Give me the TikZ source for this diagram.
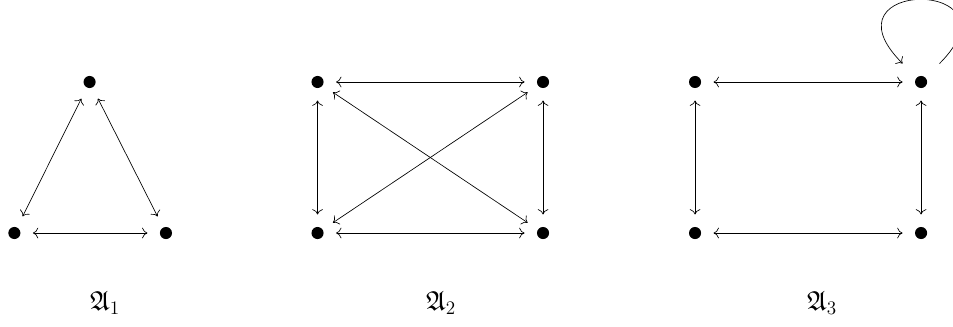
\documentclass[tikz,border=0pt]{standalone}
\usepackage{amssymb}
\usetikzlibrary{arrows.meta}
\begin{document}
\begin{tikzpicture}[transform shape, vertex/.style={shape=circle, fill, inner sep=0pt, minimum size=0.32cm, outer sep=0.33cm}, link/.style={line width=0.5pt, {Computer Modern Rightarrow[length=4pt,width=8pt]}-{Computer Modern Rightarrow[length=4pt,width=8pt]}}, loopy/.style={line width=0.5pt, -{Computer Modern Rightarrow[length=4pt,width=8pt]}}, caption/.style={shape=rectangle, anchor=center, font=\huge}]
	\useasboundingbox (0, 0) rectangle (25.21, 8.624);
	% first graph
	\node[vertex] (a1t) at (2.37, 6.455){};
	\node[vertex] (a1l) at (0.38, 2.46){};
	\node[vertex] (a1r) at (4.39, 2.46){};
	\draw[link] (a1t) -- (a1l);
	\draw[link] (a1t) -- (a1r);
	\draw[link] (a1l) -- (a1r);
	\node[caption] (n1) at (2.778, 0.61){$\mathfrak{A}_1$};
	% second graph
	\node[vertex] (a2a) at (8.4, 6.455){};
	\node[vertex] (a2b) at (14.365, 6.455){};
	\node[vertex] (a2c) at (8.4, 2.46){};
	\node[vertex] (a2d) at (14.365, 2.46){};
	\draw[link] (a2a) -- (a2b);
	\draw[link] (a2c) -- (a2d);
	\draw[link] (a2a) -- (a2c);
	\draw[link] (a2b) -- (a2d);
	\draw[link] (a2a) -- (a2d);
	\draw[link] (a2b) -- (a2c);
	\node[caption] (n2) at (11.667, 0.61){$\mathfrak{A}_2$};
	% third graph
	\node[vertex] (a3a) at (18.386, 6.455){};
	\node[vertex] (a3b) at (24.365, 6.455){};
	\node[vertex] (a3c) at (18.386, 2.46){};
	\node[vertex] (a3d) at (24.365, 2.46){};
	\draw[link] (a3a) -- (a3b);
	\draw[link] (a3c) -- (a3d);
	\draw[link] (a3a) -- (a3c);
	\draw[link] (a3b) -- (a3d);
	\draw[loopy, shorten <=0.2cm, shorten >=0.2cm] (a3b) to[out=45, in=135, distance=3.4cm] (a3b);
	\node[caption] (n3) at (21.746, 0.61){$\mathfrak{A}_3$};
\end{tikzpicture}
\end{document}
